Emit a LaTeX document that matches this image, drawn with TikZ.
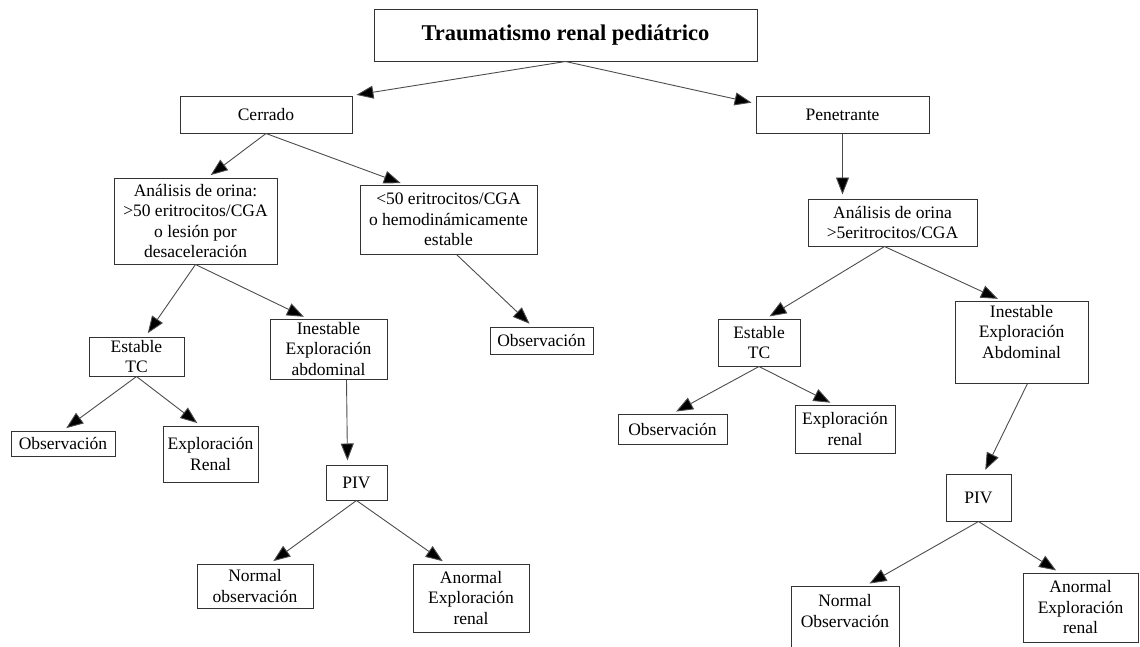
\documentclass[tikz,border=0pt]{standalone}
\usepackage{fontspec}
\setmainfont{Liberation Serif}
\usetikzlibrary{arrows.meta}

\begin{document}
\begin{tikzpicture}[->,>={Triangle[length=17pt,width=13pt,fill=black]},x=1pt,y=-1pt,
  line width=0.9pt,draw=black!70,shorten >=4pt,
  box/.style={draw=black!80,line width=1pt,align=center,inner sep=0pt,
    font=\fontsize{17.5}{20.5}\selectfont}]

\useasboundingbox (0,0) rectangle (1140,646);

% raiz
\node (trauma) at (565.5,35) [box,minimum width=383pt,minimum height=52pt,
  font=\fontsize{22.5}{26}\selectfont\bfseries] {Traumatismo renal pediátrico};

\node (cerrado) at (266,114.5) [box,minimum width=172pt,minimum height=37pt] {Cerrado};
\node (penetr) at (842.5,114.5) [box,minimum width=173pt,minimum height=37pt] {Penetrante};

% rama cerrado
\node (anaC) at (195.5,221) [box,minimum width=163pt,minimum height=86pt]
  {Análisis de orina:\\>50 eritrocitos/CGA\\o lesión por\\desaceleración};
\node (menos) at (448.5,219.5) [box,minimum width=177pt,minimum height=69pt]
  {<50 eritrocitos/CGA\\o hemodinámicamente\\estable};
\node (obsM) at (541.5,340.5) [box,minimum width=103pt,minimum height=27pt] {Observación};

\node (estC) at (136.5,356.5) [box,minimum width=95pt,minimum height=39pt] {Estable\\TC};
\node (inestC) at (328.5,349) [box,minimum width=117pt,minimum height=60pt]
  {Inestable\\Exploración\\abdominal};

\node (obsC) at (63,443.5) [box,minimum width=104pt,minimum height=25pt] {Observación};
\node (explC) at (210.5,454) [box,minimum width=95pt,minimum height=56pt] {Exploración\\Renal};

\node (pivC) at (356.5,482.5) [box,minimum width=61pt,minimum height=35pt] {PIV};
\node (normC) at (255,586) [box,minimum width=116pt,minimum height=44pt] {Normal\\observación};
\node (anorC) at (471,598) [box,minimum width=116pt,minimum height=68pt]
  {Anormal\\Exploración\\renal};

% rama penetrante
\node (anaP) at (892.5,222.5) [box,minimum width=169pt,minimum height=47pt]
  {Análisis de orina\\>5eritrocitos/CGA};

\node (estP) at (759,342.5) [box,minimum width=82pt,minimum height=47pt] {Estable\\TC};
\node (inestP) at (1021.5,342) [box,minimum width=133pt,minimum height=82pt]
  {Inestable\\Exploración\\Abdominal\\\mbox{}};

\node (obsP) at (672.5,429) [box,minimum width=109pt,minimum height=30pt] {Observación};
\node (explP) at (845,429) [box,minimum width=100pt,minimum height=48pt] {Exploración\\renal};

\node (pivP) at (978.5,497.5) [box,minimum width=65pt,minimum height=47pt] {PIV};
\node (normP) at (845,621) [box,minimum width=108pt,minimum height=70pt]
  {Normal\\Observación\\\mbox{}};
\node (anorP) at (1080.5,607.5) [box,minimum width=115pt,minimum height=69pt]
  {Anormal\\Exploración\\renal};

\path [->]
    (trauma.south) edge (cerrado.north east)
    (trauma.south) edge ([yshift=-8pt]penetr.north west)
    (cerrado.south) edge ([xshift=12pt]anaC.north)
    (cerrado.south) edge ([xshift=-44pt]menos.north)
    ([xshift=8pt]menos.south) edge ([xshift=-9pt]obsM.north)
    (anaC.south) edge ([xshift=9pt]estC.north)
    (anaC.south) edge ([xshift=-21pt]inestC.north)
    (estC.south) edge (obsC.north)
    (estC.south) edge ([xshift=-10pt]explC.north)
    ([xshift=18pt]inestC.south) edge ([xshift=-9pt]pivC.north)
    (pivC.south) edge ([xshift=15pt]normC.north)
    (pivC.south) edge ([xshift=-25pt]anorC.north)
    (penetr.south) edge (penetr.south |- anaP.north)
    ([xshift=-8pt]anaP.south) edge ([xshift=7pt]estP.north)
    ([xshift=-8pt]anaP.south) edge ([xshift=-20pt]inestP.north)
    (estP.south) edge (obsP.north)
    (estP.south) edge ([xshift=-11pt]explP.north)
    ([xshift=6pt]inestP.south) edge ([xshift=5pt]pivP.north)
    (pivP.south) edge ([xshift=21pt]normP.north)
    (pivP.south) edge ([xshift=-21pt]anorP.north)
;

\end{tikzpicture}
\end{document}
